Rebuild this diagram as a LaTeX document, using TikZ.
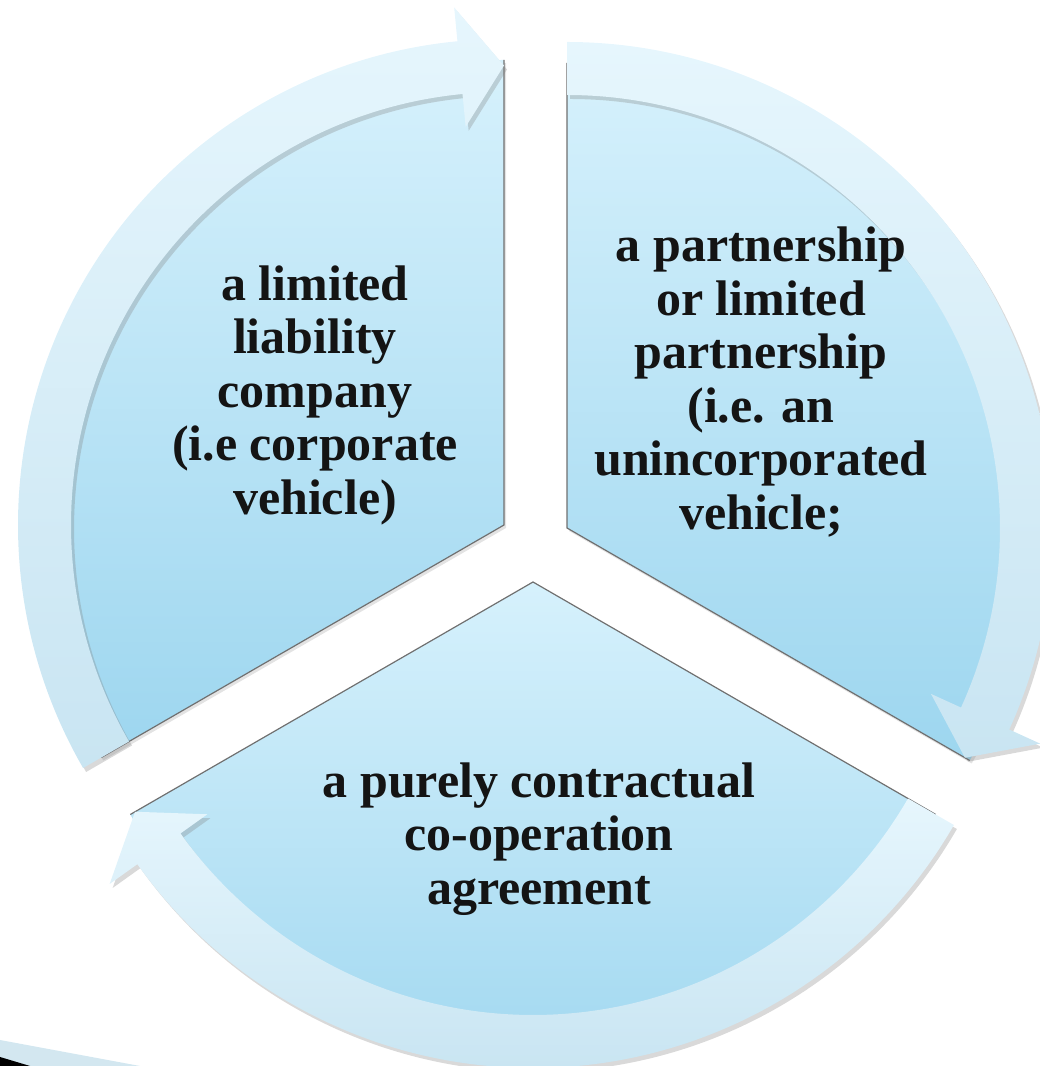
\documentclass[tikz,border=0pt]{standalone}
\usepackage{fontspec}
\setmainfont{Liberation Serif}
\usetikzlibrary{shadows,calc}
\definecolor{secTop}{HTML}{D6F1FC}
\definecolor{secBot}{HTML}{9DD6EF}
\definecolor{arrTop}{HTML}{E6F6FD}
\definecolor{arrBot}{HTML}{C9E5F2}
\definecolor{edgegray}{HTML}{707070}
\definecolor{stripblue}{HTML}{D3E7F0}
\begin{document}
\begin{tikzpicture}[x=1pt,y=1pt,
  sector/.style={top color=secTop, bottom color=secBot,
    drop shadow={opacity=0.22, shadow xshift=2pt, shadow yshift=-3pt}},
  cyclearrow/.style={top color=arrTop, bottom color=arrBot,
    drop shadow={opacity=0.3, shadow xshift=3pt, shadow yshift=-4pt}},
  sectoredge/.style={draw=edgegray, line width=1.2pt, line join=miter},
  celltext/.style={align=center, font=\fontsize{50}{53.5}\selectfont\bfseries,
    text=black!92, inner sep=0pt}]
\useasboundingbox (0,0) rectangle (1040,1066);

% corner strip at the bottom left
\fill[stripblue] (0,26) -- (140,0) -- (0,0) -- cycle;
\fill[black] (0,9) -- (30,0) -- (0,0) -- cycle;

\coordinate (A1) at (504,541);
\coordinate (A2) at (567,538);
\coordinate (A3) at (533,484);

% sectors
\path[sector] (A1) -- ++(90:465) arc[start angle=90, end angle=210, radius=465] -- cycle;
\path[sector] (A2) -- ++(-30:465) arc[start angle=-30, end angle=90, radius=465] -- cycle;
\path[sector] (A3) -- ++(210:465) arc[start angle=210, end angle=330, radius=465] -- cycle;
\draw[sectoredge] ($(A1)+(90:465)$) -- (A1) -- ($(A1)+(210:465)$);
\draw[sectoredge] ($(A2)+(90:465)$) -- (A2) -- ($(A2)+(-30:465)$);
\draw[sectoredge] ($(A3)+(210:465)$) -- (A3) -- ($(A3)+(330:465)$);

% cycle arrows
\begin{scope}[shift={(A1)}]
\path[cyclearrow] (210:486) arc[start angle=210, end angle=95.5, radius=486]
  -- (95.5:520) -- (90:459.5) -- (95.5:400) -- (95.5:433)
  arc[start angle=95.5, end angle=210, radius=433] -- cycle;
\end{scope}
\begin{scope}[shift={(A2)}]
\path[cyclearrow] (90:486) arc[start angle=90, end angle=-24.5, radius=486]
  -- (-24.5:520) -- (-30:459.5) -- (-24.5:400) -- (-24.5:433)
  arc[start angle=-24.5, end angle=90, radius=433] -- cycle;
\end{scope}
\begin{scope}[shift={(A3)}]
\path[cyclearrow] (-30:486) arc[start angle=-30, end angle=-144.5, radius=486]
  -- (-144.5:520) -- (-144.5:520) -- (-150:459.5) -- (-144.5:400) -- (-144.5:433)
  arc[start angle=-144.5, end angle=-30, radius=433] -- cycle;
\end{scope}

% texts
\node[celltext] (t1) at (315,671) {a limited\\liability\\company\\(i.e corporate\\vehicle)};
\node[celltext] (t2) at (761,684) {a partnership\\or limited\\partnership\\(i.e. an\\unincorporated\\vehicle;};
\node[celltext] (t3) at (539,227) {a purely contractual\\co-operation\\agreement};
\end{tikzpicture}
\end{document}
